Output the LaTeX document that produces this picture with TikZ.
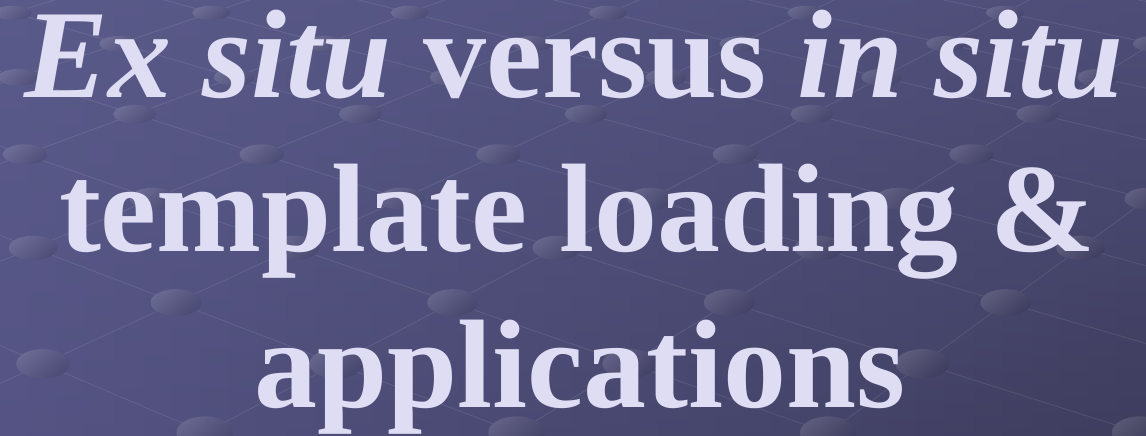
\documentclass[tikz,border=0pt]{standalone}
\usepackage{fontspec}
\setmainfont{Liberation Serif}
\definecolor{bgTL}{HTML}{5A5A8A}
\definecolor{bgTR}{HTML}{4E4D78}
\definecolor{bgBL}{HTML}{545383}
\definecolor{bgBR}{HTML}{3E3D5E}
\definecolor{titlecol}{HTML}{DFDDF4}
\tikzset{
  gridline/.style={white, opacity=0.09, line width=0.9pt},
  dot/.style={top color=white!13!cdot, bottom color=black!10!cdot, shading angle=40},
  titletext/.style={text=titlecol, inner sep=0pt, anchor=base,
    font=\fontsize{126}{155}\selectfont\bfseries}
}
\begin{document}
\begin{tikzpicture}[x=1pt,y=-1pt]
\useasboundingbox (0,0) rectangle (1146,436);
\begin{scope}
\clip (0,0) rectangle (1146,436);
% background gradient as vertical strips
\foreach \i in {0,...,39} {
  \pgfmathsetmacro{\p}{100*\i/39}
  \shade[top color=bgTR!\p!bgTL, bottom color=bgBR!\p!bgBL]
    ({\i*28.65},0) rectangle ({(\i+1)*28.65+0.8},436);
}
% perspective grid lines
\foreach \k in {-8,...,9} {
  \pgfmathsetmacro{\c}{0.317+\k}
  % down-right family
  \pgfmathsetmacro{\xa}{-50+176.93*(\c-1.5)}
  \pgfmathsetmacro{\xb}{-50+385.16*(\c+6)}
  \draw[gridline] (\xa,-66.69) -- (\xb,704.53);
  % up-right family
  \pgfmathsetmacro{\xc}{-50+176.93*(\c+1.5)}
  \pgfmathsetmacro{\xd}{-50+385.16*(\c-6)}
  \draw[gridline] (\xc,-66.69) -- (\xd,704.53);
}
% dots at the intersections
\foreach \r in {0,...,9} {
  \pgfmathsetmacro{\D}{1000/(1.361-0.055*\r)}
  \pgfmathsetmacro{\yy}{\D-722}
  \pgfmathsetmacro{\off}{0.317+0.5*mod(\r,2)}
  \pgfmathsetmacro{\rx}{19+0.022*(\yy-13)}
  \pgfmathsetmacro{\ry}{7+0.022*(\yy-13)}
  \pgfmathsetmacro{\py}{max(0,min(100,\yy/4.36))}
  \foreach \k in {-1,...,6} {
    \pgfmathsetmacro{\xx}{-50+0.27*\D*(\off+\k)}
    \pgfmathsetmacro{\px}{max(0,min(100,\xx/11.46))}
    \colorlet{ctop}{bgTR!\px!bgTL}
    \colorlet{cbot}{bgBR!\px!bgBL}
    \colorlet{cdot}{cbot!\py!ctop}
    \shade[dot] (\xx,\yy) ellipse [x radius=\rx pt, y radius=\ry pt];
  }
}
\end{scope}
% title
\node[titletext] (line1) at (574,97) {\textit{Ex situ} versus \textit{in situ}};
\node[titletext] (line2) at (577,251) {template loading \&};
\node[titletext] (line3) at (580,407) {applications};
\end{tikzpicture}
\end{document}
